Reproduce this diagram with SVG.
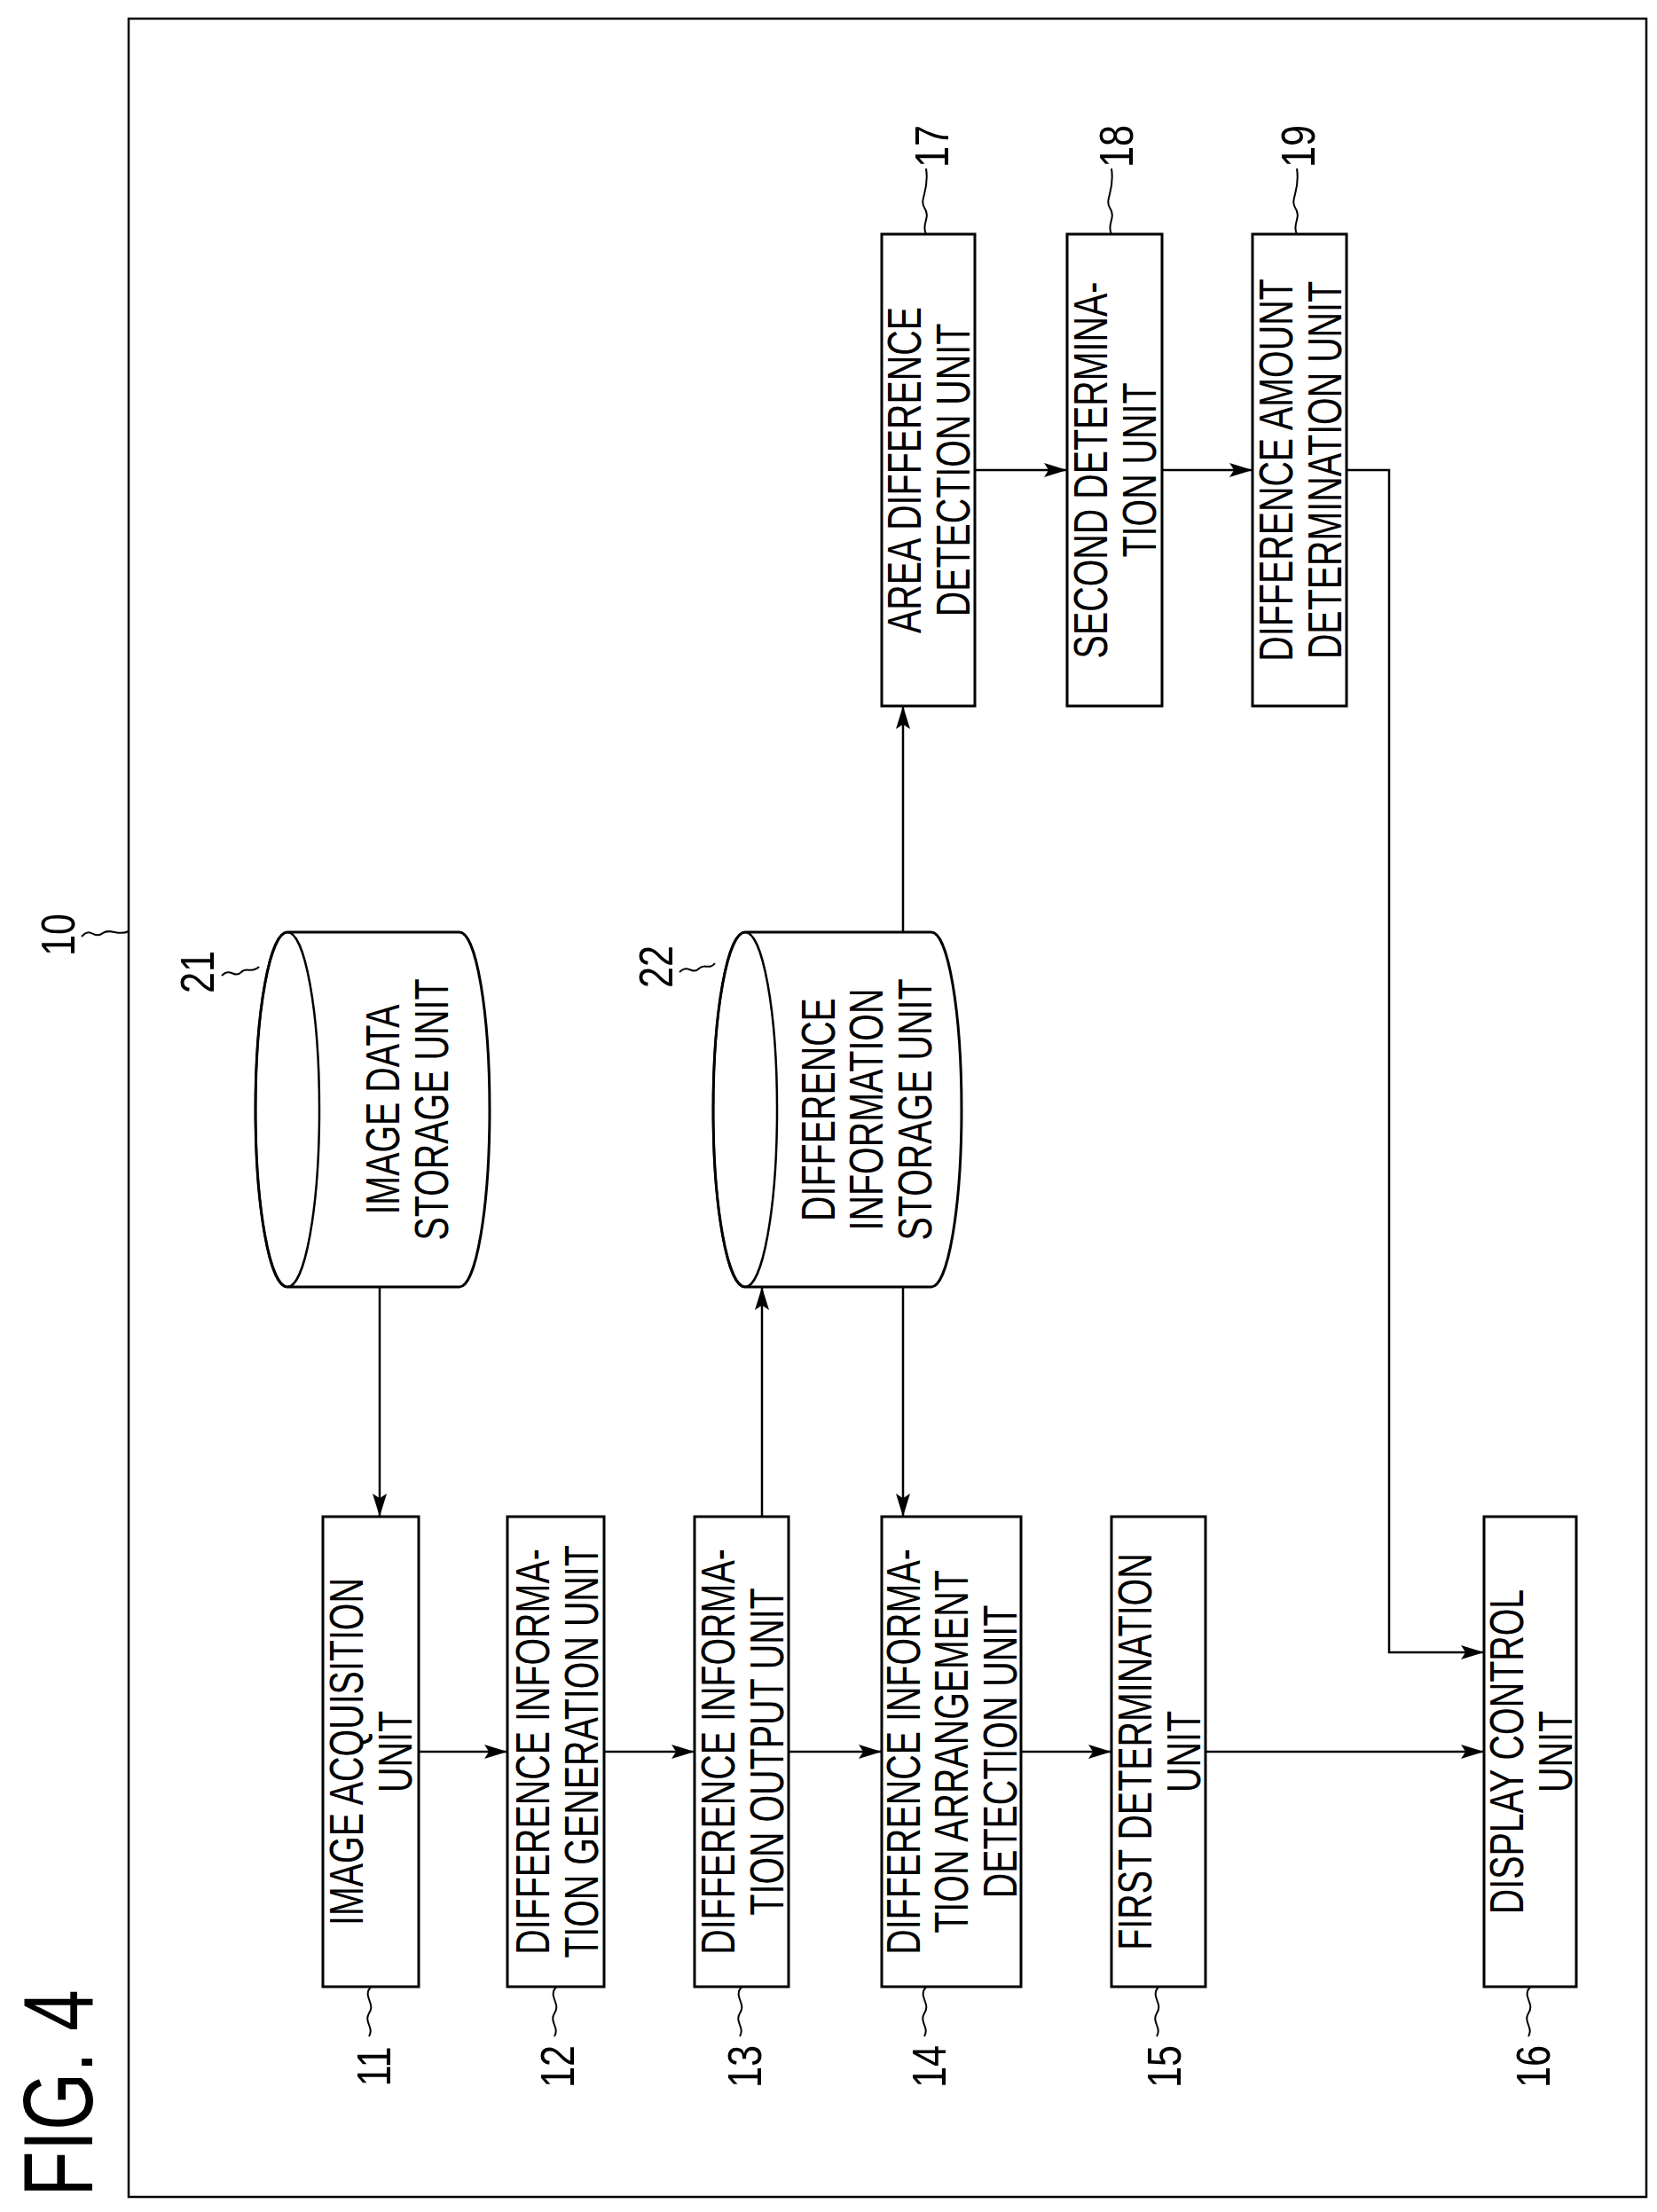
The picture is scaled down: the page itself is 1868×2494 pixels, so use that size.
<svg xmlns="http://www.w3.org/2000/svg" width="1868" height="2494" viewBox="0 0 1868 2494">
<style>
.b{fill:#fff;stroke:#000;stroke-width:3}
.c{fill:none;stroke:#000;stroke-width:2.5}
.t{font-family:"Liberation Sans",Arial,sans-serif;font-size:54px;fill:#000;text-anchor:middle}
.n{font-family:"Liberation Sans",Arial,sans-serif;font-size:54px;fill:#000;text-anchor:middle}
.l{fill:none;stroke:#000;stroke-width:2}
</style>
<defs>
<marker id="a" viewBox="0 0 10 10" refX="10" refY="5" markerWidth="26" markerHeight="16" markerUnits="userSpaceOnUse" orient="auto" preserveAspectRatio="none">
<path d="M0,0 L10,5 L0,10 L2,5 Z" fill="#000"/>
</marker>
</defs>
<rect width="1868" height="2494" fill="#fff"/>
<rect x="145" y="21" width="1711" height="2456" class="c"/>
<g id="fig"><text class="t" style="font-size:112px" transform="translate(104,2360) rotate(-90) scale(0.75,1)">FIG. 4</text></g>
<g id="lbl10"><text class="n" transform="translate(84,1054) rotate(-90) scale(0.8,1)">10</text><path class="l" d="M92,1056 c10,-12 14,4 24,-4 c8,-6 18,4 29,-2"/></g>
<g id="n11"><rect class="b" x="364" y="1710" width="108" height="530"/><text class="t" transform="translate(418,1975) rotate(-90) scale(0.73,1)"><tspan x="0" y="-9">IMAGE ACQUISITION</tspan><tspan x="0" y="46">UNIT</tspan></text></g>
<g id="n12"><rect class="b" x="572" y="1710" width="109" height="530"/><text class="t" transform="translate(627,1975) rotate(-90) scale(0.73,1)"><tspan x="0" y="-8">DIFFERENCE INFORMA-</tspan><tspan x="0" y="47">TION GENERATION UNIT</tspan></text></g>
<g id="n13"><rect class="b" x="783" y="1710" width="106" height="530"/><text class="t" transform="translate(836,1975) rotate(-90) scale(0.73,1)"><tspan x="0" y="-8">DIFFERENCE INFORMA-</tspan><tspan x="0" y="47">TION OUTPUT UNIT</tspan></text></g>
<g id="n14"><rect class="b" x="994" y="1710" width="157" height="530"/><text class="t" transform="translate(1072,1975) rotate(-90) scale(0.73,1)"><tspan x="0" y="-35">DIFFERENCE INFORMA-</tspan><tspan x="0" y="19">TION ARRANGEMENT</tspan><tspan x="0" y="74">DETECTION UNIT</tspan></text></g>
<g id="n15"><rect class="b" x="1253" y="1710" width="106" height="530"/><text class="t" transform="translate(1306,1975) rotate(-90) scale(0.73,1)"><tspan x="0" y="-8">FIRST DETERMINATION</tspan><tspan x="0" y="47">UNIT</tspan></text></g>
<g id="n16"><rect class="b" x="1673" y="1710" width="104" height="530"/><text class="t" transform="translate(1725,1975) rotate(-90) scale(0.73,1)"><tspan x="0" y="-8">DISPLAY CONTROL</tspan><tspan x="0" y="47">UNIT</tspan></text></g>
<g id="n17"><rect class="b" x="994" y="264" width="105" height="532"/><text class="t" transform="translate(1046,530) rotate(-90) scale(0.73,1)"><tspan x="0" y="-8">AREA DIFFERENCE</tspan><tspan x="0" y="47">DETECTION UNIT</tspan></text></g>
<g id="n18"><rect class="b" x="1203" y="264" width="107" height="532"/><text class="t" transform="translate(1256,530) rotate(-90) scale(0.73,1)"><tspan x="0" y="-8">SECOND DETERMINA-</tspan><tspan x="0" y="47">TION UNIT</tspan></text></g>
<g id="n19"><rect class="b" x="1412" y="264" width="106" height="532"/><text class="t" transform="translate(1465,530) rotate(-90) scale(0.73,1)"><tspan x="0" y="-8">DIFFERENCE AMOUNT</tspan><tspan x="0" y="47">DETERMINATION UNIT</tspan></text></g>
<g id="n21"><path class="b" d="M324,1051 L518,1051 A34,200 0 0 1 518,1451 L324,1451 A36,200 0 0 1 324,1051 Z"/><ellipse class="c" cx="324" cy="1251" rx="36" ry="200"/><text class="t" transform="translate(458,1251) rotate(-90) scale(0.73,1)"><tspan x="0" y="-8">IMAGE DATA</tspan><tspan x="0" y="47">STORAGE UNIT</tspan></text></g>
<g id="n22"><path class="b" d="M840,1051 L1050,1051 A34,200 0 0 1 1050,1451 L840,1451 A36,200 0 0 1 840,1051 Z"/><ellipse class="c" cx="840" cy="1251" rx="36" ry="200"/><text class="t" transform="translate(976,1251) rotate(-90) scale(0.73,1)"><tspan x="0" y="-35">DIFFERENCE</tspan><tspan x="0" y="19">INFORMATION</tspan><tspan x="0" y="74">STORAGE UNIT</tspan></text></g>
<g id="labels">
<text class="n" transform="translate(440,2330) rotate(-90) scale(0.8,1)">11</text>
<text class="n" transform="translate(647,2330) rotate(-90) scale(0.8,1)">12</text>
<text class="n" transform="translate(858,2330) rotate(-90) scale(0.8,1)">13</text>
<text class="n" transform="translate(1066,2330) rotate(-90) scale(0.8,1)">14</text>
<text class="n" transform="translate(1331,2330) rotate(-90) scale(0.8,1)">15</text>
<text class="n" transform="translate(1747,2330) rotate(-90) scale(0.8,1)">16</text>
<text class="n" transform="translate(1069,165) rotate(-90) scale(0.8,1)">17</text>
<text class="n" transform="translate(1277,165) rotate(-90) scale(0.8,1)">18</text>
<text class="n" transform="translate(1482,165) rotate(-90) scale(0.8,1)">19</text>
<text class="n" transform="translate(241,1096) rotate(-90) scale(0.8,1)">21</text>
<text class="n" transform="translate(758,1090) rotate(-90) scale(0.8,1)">22</text>
<path class="l" d="M418,2240 c-10,12 6,18 -2,30 c-6,10 6,16 0,26"/>
<path class="l" d="M627,2240 c-10,12 6,18 -2,30 c-6,10 6,16 0,26"/>
<path class="l" d="M836,2240 c-10,12 6,18 -2,30 c-6,10 6,16 0,26"/>
<path class="l" d="M1044,2240 c-10,12 6,18 -2,30 c-6,10 6,16 0,26"/>
<path class="l" d="M1306,2240 c-10,12 6,18 -2,30 c-6,10 6,16 0,26"/>
<path class="l" d="M1725,2240 c-10,12 6,18 -2,30 c-6,10 6,16 0,26"/>
<path class="l" d="M1044,264 c-6,-12 6,-18 -2,-30 c-6,-10 6,-18 2,-44"/>
<path class="l" d="M1253,264 c-6,-12 6,-18 -2,-30 c-6,-10 6,-18 2,-44"/>
<path class="l" d="M1462,264 c-6,-12 6,-18 -2,-30 c-6,-10 6,-18 2,-44"/>
<path class="l" d="M250,1100 c10,-10 14,4 22,-4 c6,-6 12,2 20,-6"/>
<path class="l" d="M766,1096 c10,-10 14,4 22,-4 c6,-6 12,2 18,-6"/>
</g>
<g id="connectors" class="c">
<path class="c" marker-end="url(#a)" d="M472,1975 H572"/>
<path class="c" marker-end="url(#a)" d="M681,1975 H783"/>
<path class="c" marker-end="url(#a)" d="M889,1975 H994"/>
<path class="c" marker-end="url(#a)" d="M1151,1975 H1253"/>
<path class="c" marker-end="url(#a)" d="M1359,1975 H1673"/>
<path class="c" marker-end="url(#a)" d="M1099,530 H1203"/>
<path class="c" marker-end="url(#a)" d="M1310,530 H1412"/>
<path class="c" marker-end="url(#a)" d="M1518,530 H1566 V1863 H1673"/>
<path class="c" marker-end="url(#a)" d="M428,1451 V1710"/>
<path class="c" marker-end="url(#a)" d="M859,1710 V1451"/>
<path class="c" marker-end="url(#a)" d="M1018,1451 V1710"/>
<path class="c" marker-end="url(#a)" d="M1018,1051 V796"/>
</g>
</svg>
